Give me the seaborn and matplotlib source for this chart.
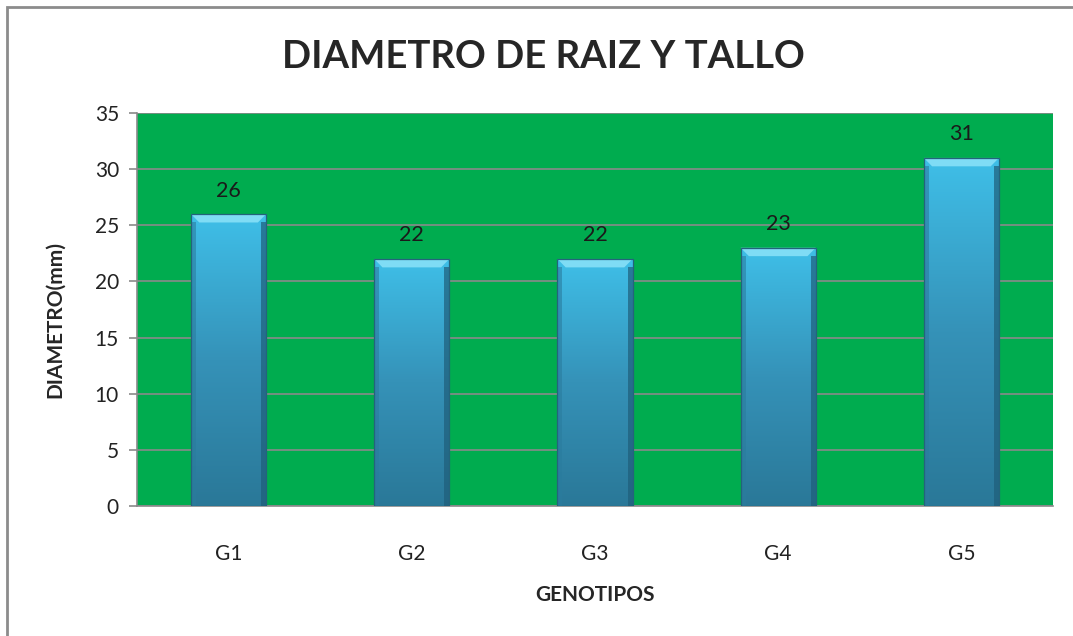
import numpy as np
import pandas as pd
import matplotlib
matplotlib.use("Agg")
import matplotlib.pyplot as plt
import seaborn as sns
from matplotlib.colors import LinearSegmentedColormap
from matplotlib.patches import Rectangle, Polygon

# datos
genotipos = ["G1", "G2", "G3", "G4", "G5"]
diametro = [26, 22, 22, 23, 31]
y_ticks = [0, 5, 10, 15, 20, 25, 30, 35]

df = pd.DataFrame({"genotipo": genotipos, "diametro": diametro})

sns.set_style("white")
plt.rcParams["font.family"] = ["Lato", "DejaVu Sans"]

fig = plt.figure(figsize=(10.73, 6.36), dpi=100)
ax = fig.add_axes([137 / 1073, 1 - 506 / 636, (1053 - 137) / 1073, (506 - 113) / 636])

ax.set_facecolor("#00AC4F")
sns.barplot(data=df, x="genotipo", y="diametro", color="#3BB5DD",
            width=0.41, saturation=1, ax=ax, zorder=3)

# degradado de barras
cmap = LinearSegmentedColormap.from_list("barra", ["#2A7898", "#3592B8", "#3FBFE8"])
grad = np.linspace(0, 1, 256).reshape(-1, 1)
for p in ax.patches[:]:
    x0, y0 = p.get_x(), p.get_y()
    w, h = p.get_width(), p.get_height()
    im = ax.imshow(grad, extent=[x0, x0 + w, y0, y0 + h], origin="lower",
                   cmap=cmap, aspect="auto", zorder=4)
    im.set_clip_path(p)
    p.set_edgecolor("none")
    # bisel superior
    bh, bx = 0.75, 0.045
    ax.add_patch(Polygon([(x0, y0 + h), (x0 + w, y0 + h), (x0 + w - bx, y0 + h - bh),
                          (x0 + bx, y0 + h - bh)], closed=True,
                         facecolor="#7FDCF5", edgecolor="none", zorder=5))
    # bordes laterales oscuros
    ax.add_patch(Rectangle((x0, y0), bx * 0.6, h - bh, facecolor="#2A7C9E",
                           alpha=0.6, edgecolor="none", zorder=5))
    ax.add_patch(Rectangle((x0 + w - bx * 0.6, y0), bx * 0.6, h - bh,
                           facecolor="#1F5E7A", alpha=0.7, edgecolor="none", zorder=5))
    ax.add_patch(Rectangle((x0, y0), w, h, facecolor="none",
                           edgecolor="#24637C", linewidth=0.9, zorder=6))
    ax.text(x0 + w / 2, y0 + h + 1.2, f"{int(h)}", ha="center", va="bottom",
            fontsize=15.5, color="#1A1A1A", zorder=7)

ax.set_ylim(0, 35)
ax.set_xlim(-0.5, 4.5)
ax.set_yticks(y_ticks)
ax.yaxis.grid(True, color="#8A8A8A", linewidth=1.2, zorder=1)
ax.set_axisbelow(True)

# marcas del eje x entre categorias
ax.set_xticks(np.arange(-0.5, 5, 1), minor=True)
ax.tick_params(axis="x", which="major", length=0, labelsize=15, pad=27, colors="#222222")
ax.tick_params(axis="x", which="minor", length=6, color="#8A8A8A", width=1.2)
ax.tick_params(axis="y", length=6, color="#8A8A8A", width=1.2, labelsize=15,
               left=True, pad=7, labelcolor="#222222")

for s in ["top", "right"]:
    ax.spines[s].set_visible(False)
for s in ["left", "bottom"]:
    ax.spines[s].set_color("#8A8A8A")
    ax.spines[s].set_linewidth(1.2)

ax.set_xlabel("GENOTIPOS", fontsize=15, fontweight="bold")
ax.xaxis.set_label_coords(0.5, -(595 - 506) / 393)
ax.xaxis.label.set_va("center")
ax.set_ylabel("DIAMETRO(mm)", fontsize=15, fontweight="bold")
ax.yaxis.set_label_coords(-(137 - 55) / 916, (506 - 320) / 393)
ax.yaxis.label.set_va("center")
fig.suptitle("DIAMETRO DE RAIZ Y TALLO", fontsize=27.5, fontweight="bold",
             x=543 / 1073, y=1 - 57 / 636, va="center")

# borde del grafico
fig.add_artist(Rectangle((7 / 1073, -0.1), 1.2, 1 - 7 / 636 + 0.1,
                         transform=fig.transFigure, facecolor="none",
                         edgecolor="#8C8C8C", linewidth=2))

fig.savefig("out.png", dpi=100)
